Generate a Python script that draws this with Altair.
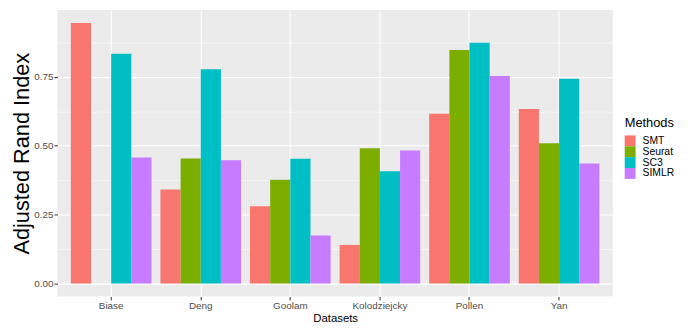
import altair as alt
import pandas as pd

datasets = ["Biase", "Deng", "Goolam", "Kolodziejcky", "Pollen", "Yan"]
methods = ["SMT", "Seurat", "SC3", "SIMLR"]
smt = [0.946, 0.341, 0.280, 0.140, 0.616, 0.633]
seurat = [0.0, 0.454, 0.377, 0.491, 0.848, 0.509]
sc3 = [0.834, 0.778, 0.453, 0.407, 0.874, 0.743]
simlr = [0.457, 0.447, 0.174, 0.483, 0.753, 0.436]
colors = ["#F8766D", "#7CAE00", "#00BFC4", "#C77CFF"]
y_grid = [0.0, 0.125, 0.25, 0.375, 0.5, 0.625, 0.75, 0.875]

series = {"SMT": smt, "Seurat": seurat, "SC3": sc3, "SIMLR": simlr}
rows = []
for m in methods:
    for d, v in zip(datasets, series[m]):
        rows.append({"Dataset": d, "Method": m, "ARI": v})
df = pd.DataFrame(rows)

ymax = max(max(v) for v in series.values())
expand = 0.05 * ymax
font = "Liberation Sans"

chart = alt.Chart(df).mark_bar().encode(
    x=alt.X(
        "Dataset:N",
        sort=datasets,
        title="Datasets",
        scale=alt.Scale(paddingInner=0.1, paddingOuter=0.15),
        axis=alt.Axis(
            grid=True, gridColor="white", gridWidth=1.1, bandPosition=0.5,
            domain=False, tickColor="#333333", tickSize=3.5, tickWidth=1,
            labelPadding=1, labelFontSize=10, labelColor="#4D4D4D", labelAngle=0,
            titleFontSize=11.5, titleColor="black", titleFontWeight="normal",
            titlePadding=2,
        ),
    ),
    xOffset=alt.XOffset("Method:N", sort=methods,
                        scale=alt.Scale(paddingInner=0, paddingOuter=0)),
    y=alt.Y(
        "ARI:Q",
        title="Adjusted Rand Index",
        scale=alt.Scale(domain=[-expand, ymax + expand], nice=False, zero=False),
        axis=alt.Axis(
            values=y_grid,
            labelExpr="datum.value % 0.25 == 0 ? format(datum.value, '.2f') : ''",
            grid=True, gridColor="white",
            gridWidth={"condition": {"test": "datum.value % 0.25 == 0", "value": 1.1}, "value": 0.55},
            tickOpacity={"condition": {"test": "datum.value % 0.25 == 0", "value": 1}, "value": 0},
            domain=False, tickColor="#333333", tickSize=3.5, tickWidth=1,
            labelPadding=1, labelFontSize=10, labelColor="#4D4D4D",
            titleFontSize=22, titleColor="black", titleFontWeight="normal",
            titlePadding=0,
        ),
    ),
    y2=alt.datum(0),
    color=alt.Color(
        "Method:N",
        sort=methods,
        title="Methods",
        scale=alt.Scale(domain=methods, range=colors),
        legend=alt.Legend(
            orient="none", legendX=574, legendY=108,
            symbolType="square", symbolSize=121, symbolStrokeWidth=0,
            symbolOpacity=1, rowPadding=0, labelOffset=7,
            labelFontSize=10.5, labelColor="black",
            titleFontSize=13, titleFontWeight="normal", titleColor="black",
            titlePadding=6,
        ),
    ),
).properties(
    width=562,
    height=290,
    autosize=alt.AutoSizeParams(type="none"),
    padding={"left": 50, "top": 0, "right": 72, "bottom": 33},
).configure(
    font=font,
    background="white",
).configure_view(
    fill="#EBEBEB",
    strokeWidth=0,
)

chart.save("out.html", embed_options={"renderer": "svg", "actions": False})
